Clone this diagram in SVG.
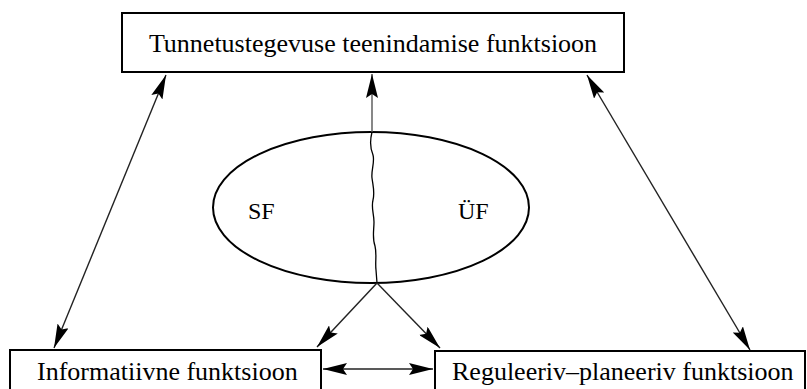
<svg xmlns="http://www.w3.org/2000/svg" width="807" height="389" viewBox="0 0 807 389">
<style>
.box{fill:#fff;stroke:#000;stroke-width:2}
.t{font-family:"Liberation Serif","Times New Roman",serif;font-size:26px;fill:#000}
.c{fill:none;stroke:#222;stroke-width:1.4}
</style>
<defs>
<marker id="ah" viewBox="0 0 24 12" markerWidth="24" markerHeight="12" refX="24" refY="6" orient="auto-start-reverse" markerUnits="userSpaceOnUse">
<path d="M0,0 L24,6 L0,12 L4,6 z" fill="#000"/>
</marker>
</defs>
<rect width="807" height="389" fill="#fff"/>
<g id="top">
<rect class="box" x="122" y="13" width="502" height="59"/>
<text class="t" x="373" y="52" text-anchor="middle">Tunnetustegevuse teenindamise funktsioon</text>
</g>
<g id="ellipse">
<ellipse cx="371" cy="207.5" rx="158" ry="75.5" fill="none" stroke="#000" stroke-width="2"/>
<path d="M372,132 C370,140 370,148 373,155 C375,162 371,170 372,178 C373,186 375,192 373,200 C371,208 374,214 374,222 C374,230 372,238 375,246 C377,254 375,262 376,270 L377,283" fill="none" stroke="#000" stroke-width="1.3"/>
<text class="t" x="248" y="219" style="font-size:24px">SF</text>
<text class="t" x="458" y="219" style="font-size:24px">ÜF</text>
</g>
<g id="info">
<rect class="box" x="10" y="350" width="311" height="50"/>
<text class="t" x="37" y="380">Informatiivne funktsioon</text>
</g>
<g id="reg">
<rect class="box" x="435" y="351" width="370" height="50"/>
<text class="t" x="452" y="380">Reguleeriv–planeeriv funktsioon</text>
</g>
<g id="connectors">
<line class="c" x1="372" y1="132" x2="372" y2="74" marker-end="url(#ah)" style="stroke:#555"/>
<line class="c" x1="166" y1="75" x2="54" y2="348" marker-start="url(#ah)" marker-end="url(#ah)"/>
<line class="c" x1="587" y1="75" x2="750" y2="350" marker-start="url(#ah)" marker-end="url(#ah)"/>
<line class="c" x1="377" y1="283" x2="317" y2="347" marker-end="url(#ah)"/>
<line class="c" x1="377" y1="283" x2="440" y2="348" marker-end="url(#ah)"/>
<line class="c" x1="323" y1="369" x2="433" y2="369" marker-start="url(#ah)" marker-end="url(#ah)"/>
</g>
</svg>
